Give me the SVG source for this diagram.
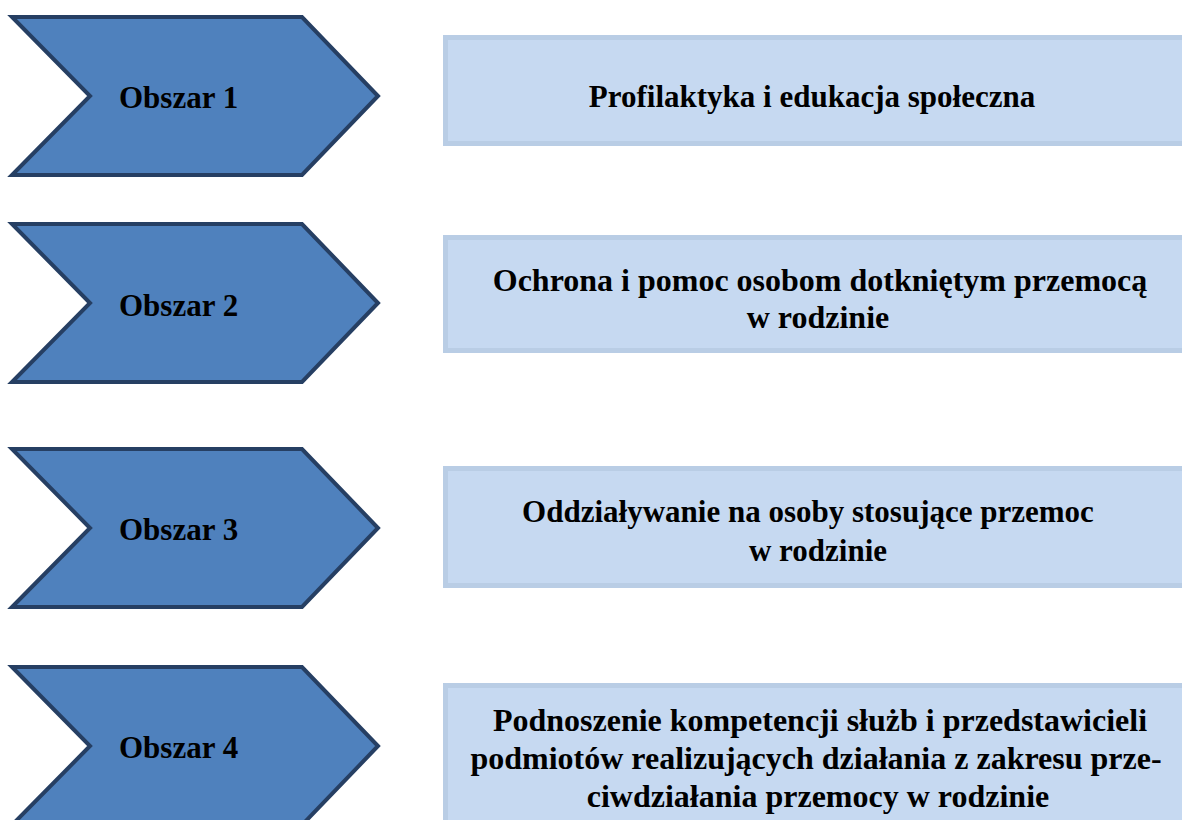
<svg xmlns="http://www.w3.org/2000/svg" width="1182" height="820" viewBox="0 0 1182 820">
<style>
.chev{fill:#4f81bd;stroke:#263f63;stroke-width:4;stroke-linejoin:miter}
.box{fill:#c6d9f1;stroke:#b9cde5;stroke-width:5}
.t{font-family:"Liberation Serif","Times New Roman",serif;font-weight:bold;font-size:31px;fill:#000}
.l{font-size:32px}
.c{text-anchor:middle}
</style>
<rect width="1182" height="820" fill="#fff"/>
<g id="connectors"></g>
<g id="obszar1">
<path class="chev" d="M12,17 L302,17 L378,96 L302,175 L12,175 L90,96 Z"/>
<text class="t" x="119" y="108">Obszar 1</text>
</g>
<g id="opis1">
<rect class="box" x="445.5" y="37.5" width="740" height="106"/>
<text class="t c" x="812" y="107">Profilaktyka i edukacja społeczna</text>
</g>
<g id="obszar2">
<path class="chev" d="M12,224 L302,224 L378,303 L302,382 L12,382 L90,303 Z"/>
<text class="t" x="119" y="316">Obszar 2</text>
</g>
<g id="opis2">
<rect class="box" x="445.5" y="237.5" width="740" height="113"/>
<text class="t l c" x="820" y="291">Ochrona i pomoc osobom dotkniętym przemocą</text>
<text class="t l c" x="818" y="328">w rodzinie</text>
</g>
<g id="obszar3">
<path class="chev" d="M12,449 L302,449 L378,528 L302,607 L12,607 L90,528 Z"/>
<text class="t" x="119" y="540">Obszar 3</text>
</g>
<g id="opis3">
<rect class="box" x="445.5" y="468.5" width="740" height="117"/>
<text class="t c" x="808" y="522">Oddziaływanie na osoby stosujące przemoc</text>
<text class="t c" x="818" y="561">w rodzinie</text>
</g>
<g id="obszar4">
<path class="chev" d="M12,667 L302,667 L378,746 L302,825 L12,825 L90,746 Z"/>
<text class="t" x="119" y="758">Obszar 4</text>
</g>
<g id="opis4">
<rect class="box" x="445.5" y="685.5" width="740" height="150"/>
<text class="t l c" x="820" y="731">Podnoszenie kompetencji służb i przedstawicieli</text>
<text class="t l c" x="816" y="769">podmiotów realizujących działania z zakresu prze-</text>
<text class="t l c" x="818" y="807">ciwdziałania przemocy w rodzinie</text>
</g>
</svg>
